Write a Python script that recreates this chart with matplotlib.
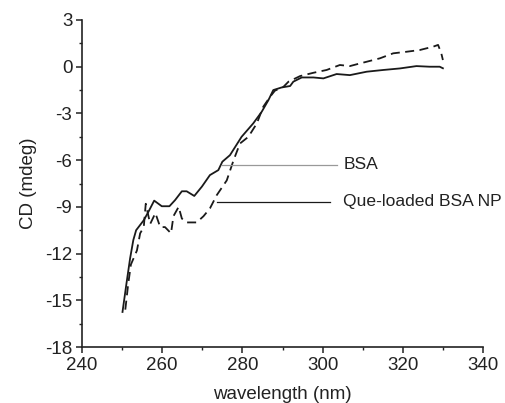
import matplotlib
matplotlib.use("Agg")
import matplotlib.pyplot as plt
from matplotlib.ticker import MultipleLocator

plt.rcParams['font.family'] = ['Liberation Sans', 'DejaVu Sans']
plt.rcParams['axes.unicode_minus'] = False

# BSA (solid)
bsa_wl = [250.1, 251.1, 252.0, 252.8, 253.5, 255.4, 256.6, 258.0, 259.9, 261.8, 263.2, 264.9, 266.1,
          268.0, 269.9, 271.9, 274.0, 275.0, 276.9, 279.8, 282.7, 284.8, 286.5, 287.7,
          289.8, 291.9, 292.7, 294.8, 297.7, 300.2, 303.5, 306.8, 311.0, 315.1, 319.3,
          323.4, 326.7, 329.2, 330.0]
bsa_cd = [-15.75, -13.9, -12.3, -11.13, -10.5, -9.86, -9.3, -8.6, -8.96, -8.96, -8.57, -8.0, -8.0,
          -8.3, -7.7, -6.96, -6.64, -6.1, -5.68, -4.5, -3.64, -2.9, -2.14, -1.5,
          -1.33, -1.24, -0.96, -0.69, -0.69, -0.75, -0.47, -0.54, -0.32, -0.21, -0.11,
          0.04, 0.0, 0.0, -0.1]

# Que-loaded BSA NP (dashed)
np_wl = [250.8, 251.5, 252.2, 253.7, 254.5, 255.4, 255.9, 257.0, 258.3, 259.5, 260.7, 262.2,
         262.8, 264.1, 264.9, 266.1, 268.6, 270.3, 271.9, 273.6, 276.1, 277.8, 279.4,
         281.5, 283.6, 285.2, 286.9, 288.1, 290.2, 291.5, 294.4, 297.7, 301.0, 304.3,
         306.8, 309.3, 311.0, 314.3, 317.6, 320.9, 324.2, 327.6, 328.8, 329.6, 330.0]
np_cd = [-15.6, -14.0, -12.7, -11.8, -10.7, -10.3, -8.8, -10.1, -9.4, -10.3, -10.3, -10.7,
         -9.6, -9.0, -9.75, -10.0, -10.0, -9.6, -9.1, -8.25, -7.3, -6.0, -4.93,
         -4.5, -3.64, -2.57, -1.93, -1.54, -1.3, -0.96, -0.6, -0.39, -0.21, 0.11,
         0.04, 0.21, 0.32, 0.54, 0.86, 0.96, 1.07, 1.29, 1.4, 0.86, 0.43]

labels = ["BSA", "Que-loaded BSA NP"]
label_line_x = [[275.0, 303.5], [273.7, 301.9]]
label_line_y = [-6.28, -8.68]

fig = plt.figure(figsize=(5.06, 4.03), dpi=100)
ax = fig.add_axes([82/506, 1 - 347/403, (483-82)/506, (347-20)/403])

ax.plot(bsa_wl, bsa_cd, color='#1a1a1a', lw=1.3, ls='-')
ax.plot(np_wl, np_cd, color='#1a1a1a', lw=1.3, ls=(0, (5, 3)))

ax.plot(label_line_x[0], [label_line_y[0]] * 2, color='#999999', lw=0.9)
ax.plot(label_line_x[1], [label_line_y[1]] * 2, color='#1a1a1a', lw=0.9)
ax.text(305.2, label_line_y[0], labels[0], fontsize=12.6, va='center', ha='left', color='#222222')
ax.text(305.2, label_line_y[1], labels[1], fontsize=12.6, va='center', ha='left', color='#222222')

ax.set_xlim(240, 340)
ax.set_ylim(-18, 3)
ax.xaxis.set_major_locator(MultipleLocator(20))
ax.xaxis.set_minor_locator(MultipleLocator(10))
ax.yaxis.set_major_locator(MultipleLocator(3))
ax.yaxis.set_minor_locator(MultipleLocator(1.5))
for s in ['top', 'right']:
    ax.spines[s].set_visible(False)
for s in ['left', 'bottom']:
    ax.spines[s].set_linewidth(1.2)
    ax.spines[s].set_color('#222222')
ax.tick_params(which='major', direction='out', length=4, width=1.1, labelsize=13.5, colors='#222222', pad=3)
ax.tick_params(which='minor', direction='out', length=2.5, width=1.0, colors='#222222')

ax.set_xlabel('wavelength (nm)', fontsize=13.5, color='#222222', labelpad=9)
ax.set_ylabel('CD (mdeg)', fontsize=13.5, color='#222222', labelpad=6)

fig.savefig('out.png', dpi=100)
